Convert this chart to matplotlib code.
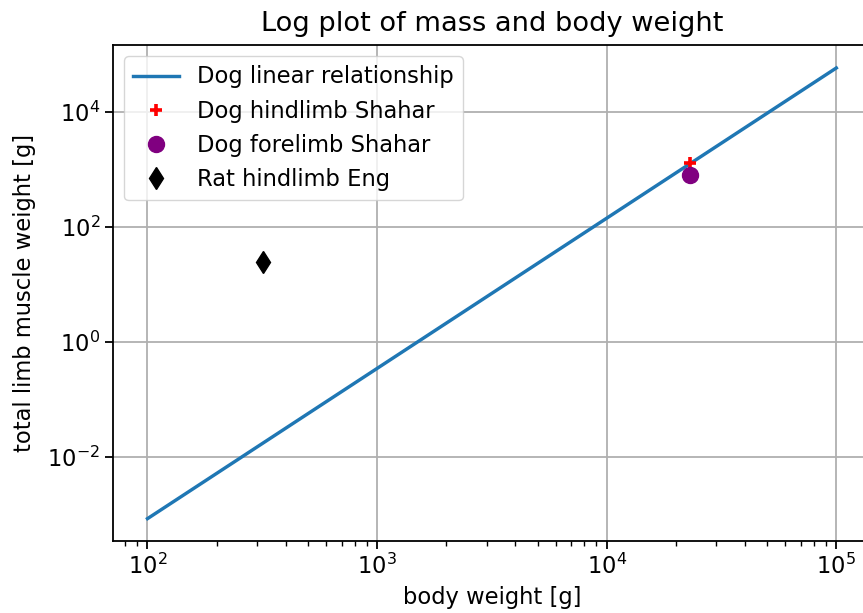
import matplotlib.pyplot as plt
import numpy as np

# Fitted dog relationship (end points of the line on log-log axes)
dog_line_weight = [1e2, 1e5]
dog_line_muscle = [8.3e-4, 5.9e4]

# Measured samples
dog_hind_weight = [2.3e4]
dog_hind_muscle = [1300]
dog_fore_weight = [2.3e4]
dog_fore_muscle = [800]
rat_hind_weight = [320]
rat_hind_muscle = [25]

plt.rcParams['font.size'] = 16.3

fig = plt.figure(figsize=(8.63, 6.13), dpi=100)
ax = fig.add_axes([0.131, 0.1175, 0.878, 0.809])

ax.loglog(dog_line_weight, dog_line_muscle, color='tab:blue', lw=2.45,
          label='Dog linear relationship')
ax.plot(dog_hind_weight, dog_hind_muscle, '+', color='red', ms=8.5, mew=2.6,
        label='Dog hindlimb Shahar', zorder=3)
ax.plot(dog_fore_weight, dog_fore_muscle, 'o', color='purple', ms=11.5,
        label='Dog forelimb Shahar', zorder=3)
ax.plot(rat_hind_weight, rat_hind_muscle, 'd', color='black', ms=11.5,
        label='Rat hindlimb Eng', zorder=3)

ax.set_xlim(10 ** 1.85, 10 ** 5.15)
ax.set_ylim(10 ** -3.47, 10 ** 5.17)
ax.set_yticks([1e-2, 1e0, 1e2, 1e4])
ax.yaxis.set_minor_locator(plt.NullLocator())
ax.grid(True, which='major', color='#b0b0b0', lw=1.3)
ax.tick_params(which='major', length=5.7, width=1.3)
ax.tick_params(which='minor', length=3.3, width=1.0)
for s in ax.spines.values():
    s.set_linewidth(1.3)

ax.set_title('Log plot of mass and body weight', fontsize=19.6, pad=10)
ax.set_xlabel('body weight [g]', labelpad=5)
ax.set_ylabel('total limb muscle weight [g]', labelpad=8)
ax.legend(loc='upper left')

fig.savefig('out.png', dpi=100)
